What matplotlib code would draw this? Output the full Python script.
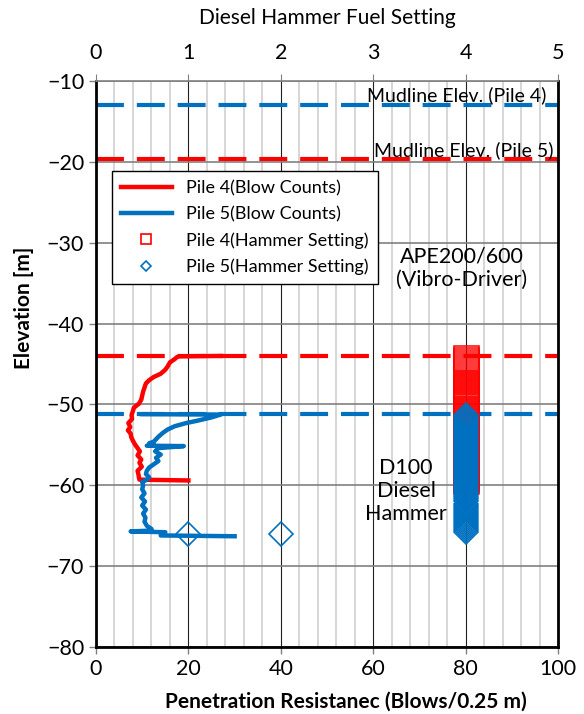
import matplotlib
matplotlib.use("Agg")
import matplotlib.pyplot as plt
import numpy as np
from matplotlib.ticker import MultipleLocator
from matplotlib.lines import Line2D

plt.rcParams['font.family'] = ['Lato', 'DejaVu Sans']

# blow counts per 0.25 m, (elevation, blows)
pile4_elev = [-44.0, -44.05, -44.15, -44.4, -44.8, -45.3, -45.7, -46.2, -46.6, -47.0,
              -47.4, -47.9, -48.4, -48.9, -49.4, -49.9, -50.4, -50.8, -51.3, -51.8,
              -52.3, -52.8, -53.2, -53.6, -54.0, -54.5, -55.0, -55.4, -55.8, -56.3,
              -56.8, -57.2, -57.7, -58.2, -58.7, -59.1, -59.3, -59.4]
pile4_blows = [27, 18, 17.5, 17, 16, 15.5, 15, 14, 12.5, 11.5,
               10.8, 10.5, 10.2, 10, 9.8, 9.3, 8.2, 8.0, 7.7, 7.8,
               7.0, 7.4, 6.9, 7.5, 7.6, 8.0, 8.5, 9.0, 9.5, 9.0,
               9.8, 9.4, 9.9, 9.0, 9.2, 9.3, 9.4, 20]

pile5_elev = [-51.2, -51.25, -51.6, -52.0, -52.3, -52.7, -53.1, -53.5, -54.0, -54.3,
              -54.6, -54.8, -55.0, -55.1, -55.15, -55.4, -55.8, -56.2, -56.6,
              -57.0, -57.4, -57.8, -58.2, -58.6, -59.0, -59.3, -59.6, -60.0, -60.5,
              -61.0, -61.5, -62.0, -62.5, -63.0, -63.5, -64.0, -64.5, -65.0, -65.4,
              -65.6, -65.7, -65.8, -66.2, -66.3]
pile5_blows = [10, 27, 25, 22, 19.5, 17, 15.5, 14.5, 13.5, 13,
               12.5, 11.5, 12.5, 11, 19, 13.5, 12.8, 14, 13,
               13.5, 12.5, 11.5, 11, 10.8, 11.5, 11, 10, 10.2, 10,
               10.5, 9.8, 10.6, 10, 10.8, 10.2, 10.7, 10.5, 11, 12,
               12, 7.5, 15, 14, 30]

# hammer fuel setting logged every 0.25 m: (setting, top elev, bottom elev)
pile4_runs = [(4, -44.25, -59.5)]
pile5_runs = [(4, -51.25, -65.75), (1, -66.0, -66.0), (2, -66.0, -66.0)]

mudline_pile4 = -13.0
mudline_pile5 = -19.6
pile4_stage = -44.0
pile5_stage = -51.2

RED = '#ff0000'
BLUE = '#0070c0'


def expand(runs, step=0.25):
    xs, ys = [], []
    for setting, top, bot in runs:
        elev = np.arange(top, bot - 1e-9, -step)
        xs.extend([setting] * len(elev))
        ys.extend(elev)
    return xs, ys


fig = plt.figure(figsize=(5.84, 7.14), dpi=100)
ax = fig.add_axes([0.1644, 0.0938, 0.7911, 0.7927])

ax.set_xlim(0, 100)
ax.set_ylim(-80, -10)
ax.xaxis.set_major_locator(MultipleLocator(20))
ax.xaxis.set_minor_locator(MultipleLocator(4))
ax.yaxis.set_major_locator(MultipleLocator(10))
ax.set_axisbelow(True)
ax.grid(which='minor', axis='x', color='#d0d0d0', lw=1.2)
ax.grid(which='major', axis='x', color='#202020', lw=0.8)
ax.grid(which='major', axis='y', color='#808080', lw=1.2)
ax.tick_params(which='minor', length=0)
ax.tick_params(which='major', direction='out', length=5, color='#808080',
               labelsize=15.5, width=1)

for s in ['left', 'bottom', 'right']:
    ax.spines[s].set_color('black')
    ax.spines[s].set_linewidth(2)
ax.spines['top'].set_color('#808080')
ax.spines['top'].set_linewidth(1.2)

dash = (0, (6.7, 3.1))
ax.axhline(mudline_pile4, color=BLUE, lw=3, ls=dash)
ax.axhline(mudline_pile5, color=RED, lw=3, ls=dash)
ax.axhline(pile4_stage, color=RED, lw=3, ls=dash)
ax.axhline(pile5_stage, color=BLUE, lw=3, ls=dash)

ax.plot(pile4_blows, pile4_elev, color=RED, lw=3.2)
ax.plot(pile5_blows, pile5_elev, color=BLUE, lw=3.2)

ax.set_xlabel('Penetration Resistanec (Blows/0.25 m)', fontsize=15, fontweight='bold')
ax.set_ylabel('Elevation [m]', fontsize=15, fontweight='bold')
ax.xaxis.set_label_coords(0.54, -0.078)
ax.yaxis.set_label_coords(-0.135, 0.6)

ax.text(97.5, -11.8, 'Mudline Elev. (Pile 4)', ha='right', va='center', fontsize=14)
ax.text(99.0, -18.5, 'Mudline Elev. (Pile 5)', ha='right', va='center', fontsize=14)
ax.text(79.1, -33.1, 'APE200/600\n(Vibro-Driver)', ha='center', va='center',
        fontsize=15.5, linespacing=1.2)
ax.text(67.1, -60.7, 'D100\nDiesel\nHammer', ha='center', va='center',
        fontsize=15.5, linespacing=1.2)

# fuel setting on the top axis
ax2 = ax.twiny()
ax2.set_xlim(0, 5)
ax2.xaxis.set_major_locator(MultipleLocator(1))
ax2.tick_params(direction='out', length=5, color='#808080', labelsize=15.5, pad=8)
for s in ax2.spines.values():
    s.set_visible(False)
ax2.set_xlabel('Diesel Hammer Fuel Setting', fontsize=15, labelpad=14)

x4, y4 = expand(pile4_runs)
x5, y5 = expand(pile5_runs)
ax2.plot(x4, y4, ls='none', marker='s', ms=18, mfc='none', mec=RED, mew=1.1)
ax2.plot(x5, y5, ls='none', marker='D', ms=12, mfc='none', mec=BLUE, mew=1.2)

handles = [
    Line2D([], [], color=RED, lw=3.2),
    Line2D([], [], color=BLUE, lw=3.2),
    Line2D([], [], ls='none', marker='s', ms=7, mfc='none', mec=RED, mew=1.2),
    Line2D([], [], ls='none', marker='D', ms=5, mfc='none', mec=BLUE, mew=1.2),
]
labels = ['Pile 4(Blow Counts)', 'Pile 5(Blow Counts)',
          'Pile 4(Hammer Setting)', 'Pile 5(Hammer Setting)']
leg = ax2.legend(handles, labels, loc='upper left', bbox_to_anchor=(0.0346, 0.841),
                 borderaxespad=0, fontsize=13, handlelength=2.8, fancybox=False,
                 framealpha=1, edgecolor='black', labelspacing=0.55,
                 borderpad=0.5)
leg.get_frame().set_linewidth(1)

fig.savefig('out.png', dpi=100)
